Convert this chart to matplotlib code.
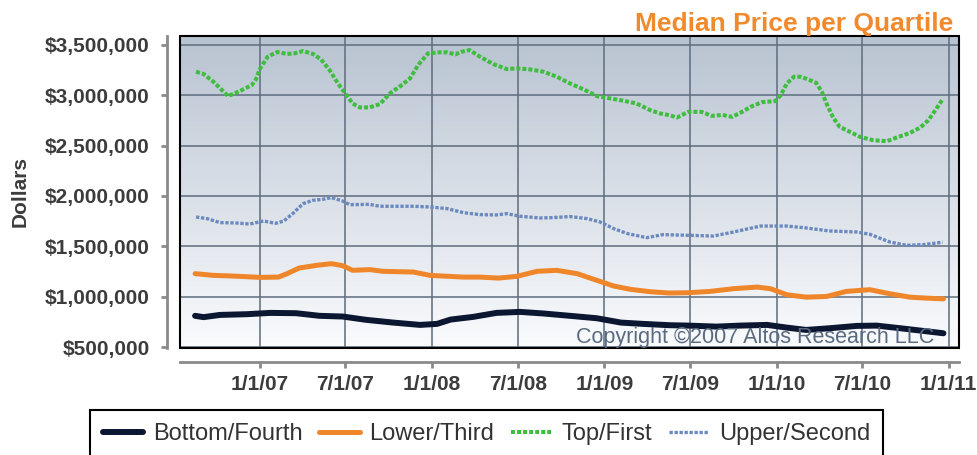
import numpy as np
import matplotlib
matplotlib.use("Agg")
import matplotlib.pyplot as plt
import matplotlib.dates as mdates
from matplotlib.ticker import FuncFormatter
from matplotlib.patches import Rectangle

plt.rcParams['font.family'] = ['Liberation Sans', 'DejaVu Sans']

# --- data ---
top_dates = ['2006-08-19', '2006-09-04', '2006-09-25', '2006-10-26', '2006-11-20', '2006-12-15',
             '2006-12-24', '2007-01-02', '2007-01-18', '2007-02-07', '2007-02-28', '2007-03-16',
             '2007-04-03', '2007-04-24', '2007-05-11', '2007-05-29', '2007-06-16', '2007-07-04',
             '2007-07-17', '2007-08-01', '2007-08-22', '2007-09-13', '2007-10-04', '2007-10-29',
             '2007-11-16', '2007-12-03', '2007-12-24', '2008-01-15', '2008-02-02', '2008-02-20',
             '2008-03-04', '2008-03-21', '2008-04-12', '2008-05-10', '2008-06-08', '2008-06-29',
             '2008-07-27', '2008-08-25', '2008-09-22', '2008-10-20', '2008-11-18', '2008-12-16',
             '2009-01-14', '2009-02-12', '2009-03-10', '2009-04-08', '2009-04-29', '2009-05-19',
             '2009-06-04', '2009-06-28', '2009-07-26', '2009-08-17', '2009-09-08', '2009-09-29',
             '2009-10-20', '2009-11-07', '2009-12-01', '2009-12-29', '2010-01-10', '2010-01-23',
             '2010-02-07', '2010-02-21', '2010-03-09', '2010-03-26', '2010-04-07', '2010-04-17',
             '2010-05-01', '2010-05-15', '2010-06-06', '2010-06-27', '2010-07-25', '2010-08-23',
             '2010-09-13', '2010-10-11', '2010-11-02', '2010-11-19', '2010-12-04', '2010-12-19']
top_vals = [3232, 3209, 3132, 2990, 3040, 3099, 3156, 3265, 3381, 3427, 3408, 3414,
            3437, 3408, 3355, 3249, 3116, 3000, 2917, 2878, 2878, 2911, 3017, 3099,
            3166, 3298, 3414, 3424, 3424, 3404, 3430, 3447, 3381, 3308, 3258, 3265,
            3255, 3232, 3182, 3116, 3057, 2990, 2967, 2943, 2917, 2851, 2818, 2801,
            2778, 2834, 2834, 2794, 2804, 2784, 2834, 2884, 2930, 2940, 3000, 3116,
            3182, 3182, 3156, 3122, 3033, 2917, 2778, 2685, 2635, 2586, 2553, 2543,
            2580, 2625, 2679, 2751, 2851, 2957]

upper_dates = ['2006-08-19', '2006-09-11', '2006-10-09', '2006-11-13', '2006-12-11', '2007-01-09',
               '2007-02-04', '2007-02-21', '2007-03-12', '2007-04-03', '2007-04-24', '2007-05-15',
               '2007-06-02', '2007-06-26', '2007-07-11', '2007-08-22', '2007-09-13', '2007-11-23',
               '2007-12-28', '2008-02-02', '2008-03-08', '2008-04-12', '2008-05-17', '2008-06-08',
               '2008-07-06', '2008-08-18', '2008-09-15', '2008-10-20', '2008-11-25', '2008-12-23',
               '2009-01-21', '2009-02-19', '2009-04-01', '2009-05-05', '2009-06-28', '2009-08-20',
               '2009-10-02', '2009-11-28', '2010-01-23', '2010-03-05', '2010-04-24', '2010-06-20',
               '2010-07-18', '2010-08-29', '2010-10-04', '2010-11-09', '2010-12-19']
upper_vals = [1792, 1776, 1736, 1732, 1722, 1752, 1729, 1752, 1825, 1924, 1957, 1967,
              1984, 1950, 1914, 1917, 1898, 1898, 1891, 1875, 1835, 1815, 1812, 1825,
              1799, 1782, 1786, 1796, 1776, 1742, 1676, 1627, 1587, 1617, 1610, 1603,
              1643, 1702, 1702, 1683, 1653, 1643, 1620, 1544, 1511, 1518, 1541]

lower_dates = ['2006-08-17', '2006-09-25', '2006-11-07', '2007-01-02', '2007-02-10', '2007-02-28',
               '2007-03-26', '2007-05-01', '2007-06-02', '2007-06-26', '2007-07-17', '2007-08-22',
               '2007-09-20', '2007-11-23', '2007-12-28', '2008-03-08', '2008-04-12', '2008-05-21',
               '2008-06-29', '2008-08-11', '2008-09-22', '2008-11-04', '2008-12-16', '2009-01-21',
               '2009-02-26', '2009-04-08', '2009-05-19', '2009-06-28', '2009-08-13', '2009-10-02',
               '2009-11-21', '2009-12-19', '2010-01-23', '2010-03-05', '2010-04-17', '2010-05-29',
               '2010-07-18', '2010-08-29', '2010-10-11', '2010-11-16', '2010-12-21']
lower_vals = [1230, 1213, 1206, 1193, 1196, 1230, 1286, 1312, 1329, 1309, 1263, 1270,
              1253, 1246, 1213, 1196, 1196, 1186, 1203, 1253, 1263, 1230, 1164, 1107,
              1074, 1051, 1038, 1041, 1054, 1081, 1097, 1081, 1021, 997, 1004, 1054,
              1071, 1031, 997, 987, 980]

bottom_dates = ['2006-08-17', '2006-09-04', '2006-10-09', '2006-12-04', '2007-01-23', '2007-03-19',
                '2007-05-08', '2007-06-26', '2007-08-15', '2007-10-11', '2007-12-07', '2008-01-12',
                '2008-02-10', '2008-03-28', '2008-05-17', '2008-07-06', '2008-08-25', '2008-10-20',
                '2008-12-16', '2009-02-05', '2009-03-24', '2009-05-19', '2009-06-28', '2009-08-27',
                '2009-10-16', '2009-12-12', '2010-01-23', '2010-03-05', '2010-04-24', '2010-06-20',
                '2010-08-01', '2010-09-20', '2010-11-09', '2010-12-21']
bottom_vals = [812, 799, 821, 828, 841, 838, 812, 805, 772, 745, 722, 732,
               775, 801, 841, 851, 835, 812, 788, 745, 732, 719, 715, 705,
               715, 722, 695, 672, 689, 712, 715, 689, 662, 639]

series_names = ['Bottom/Fourth', 'Lower/Third', 'Top/First', 'Upper/Second']
yticks = [500000, 1000000, 1500000, 2000000, 2500000, 3000000, 3500000]

# --- figure ---
W, H = 977, 455
fig = plt.figure(figsize=(W / 100, H / 100), dpi=100)
ax = fig.add_axes([180 / W, 1 - 348 / H, (959 - 180) / W, (348 - 36) / H])

# gradient background
grad = np.linspace(0, 1, 256).reshape(-1, 1)
top_c = np.array([0.722, 0.765, 0.820])
bot_c = np.array([0.980, 0.984, 0.992])
img = top_c * (1 - grad[..., None]) + bot_c * grad[..., None]
img = img.reshape(256, 1, 3)
ax.imshow(img, extent=(0, 1, 0, 1), transform=ax.transAxes, aspect='auto', zorder=0)

def d(lst):
    return np.array(lst, dtype='datetime64[D]')

ax.plot(d(bottom_dates), np.array(bottom_vals) * 1000, color='#0b1630', lw=4.3,
        solid_capstyle='round', label=series_names[0], zorder=3)
ax.plot(d(lower_dates), np.array(lower_vals) * 1000, color='#f0862a', lw=3.6,
        solid_capstyle='round', label=series_names[1], zorder=3)
ax.plot(d(top_dates), np.array(top_vals) * 1000, color='#3fbd3f', lw=2.9,
        linestyle=(0, (1, 0.5)), label=series_names[2], zorder=3)
ax.plot(d(upper_dates), np.array(upper_vals) * 1000, color='#6b89bf', lw=2.4,
        linestyle=(0, (1, 0.5)), label=series_names[3], zorder=3)

ax.set_xlim(np.datetime64('2006-07-16'), np.datetime64('2011-01-23'))
ax.set_ylim(493000, 3586000)

ax.xaxis.set_major_locator(mdates.MonthLocator(bymonth=[1, 7]))
def fmt_date(x, pos):
    dt = mdates.num2date(x)
    return f"{dt.month}/{dt.day}/{dt:%y}"
ax.xaxis.set_major_formatter(FuncFormatter(fmt_date))
ax.set_yticks(yticks)
ax.yaxis.set_major_formatter(FuncFormatter(lambda v, p: f"${v:,.0f}"))

ax.grid(True, color='#5e6c7c', lw=1.1, zorder=1)
ax.set_axisbelow(False)
for gl in ax.get_xgridlines() + ax.get_ygridlines():
    gl.set_zorder(1)

for s in ['top', 'right']:
    ax.spines[s].set_visible(False)
ax.spines['left'].set_position(('outward', 9.4))
ax.spines['bottom'].set_position(('outward', 10))
for s in ['left', 'bottom']:
    ax.spines[s].set_color('#8a8a8a')
    ax.spines[s].set_linewidth(2)

ax.tick_params(axis='both', colors='#8a8a8a', width=2, length=4.3)
ax.tick_params(axis='y', pad=8, labelsize=15, labelcolor='#3c3c3c')
ax.tick_params(axis='x', pad=5, labelsize=15, labelcolor='#3c3c3c')
for lab in ax.get_xticklabels() + ax.get_yticklabels():
    lab.set_fontweight('bold')

# black plot frame
ax.add_patch(Rectangle((0, 0), 1, 1, transform=ax.transAxes, fill=False,
                       edgecolor='black', lw=1.5, zorder=5, clip_on=False))

ax.text(0.968, 0.016, 'Copyright \u00a92007 Altos Research LLC', transform=ax.transAxes,
        ha='right', va='baseline', fontsize=15.5, color='#5a6b80', zorder=6)

fig.text(20 / W, 1 - 191 / H, 'Dollars', rotation=90, ha='center', va='center',
         fontsize=15, fontweight='bold', color='#3c3c3c')
fig.text(953 / W, 1 - 31 / H, 'Median Price per Quartile', ha='right', va='baseline',
         fontsize=19, fontweight='bold', color='#f08a2c')

leg = fig.legend(loc='upper center', bbox_to_anchor=(486.5 / W, 1 - 410 / H), ncol=4,
                 frameon=True, fancybox=False, edgecolor='black', framealpha=1,
                 handlelength=1.7, handletextpad=0.42, columnspacing=0.72, borderpad=0.55,
                 borderaxespad=0, prop={'size': 17})
leg.get_frame().set_linewidth(1.5)
for t in leg.get_texts():
    t.set_color('#333333')

fig.savefig('out.png', dpi=100)
